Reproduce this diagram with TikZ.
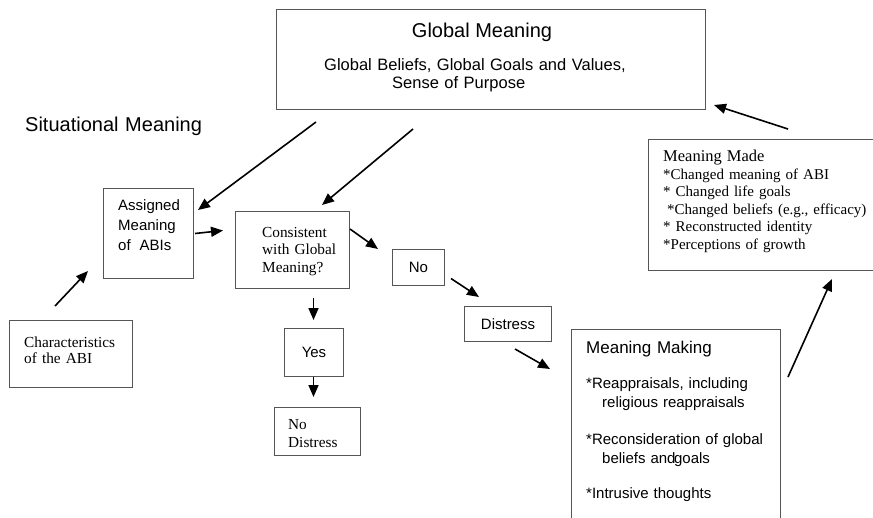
\documentclass[tikz,border=0pt]{standalone}
\usepackage{fontspec}
\setmainfont{Liberation Serif}
\setsansfont{Liberation Sans}
\usetikzlibrary{arrows.meta}
\definecolor{boxline}{RGB}{85,85,85}

\begin{document}
\begin{tikzpicture}[x=1pt, y=-1pt,
  box/.style={draw=boxline, line width=1pt, anchor=north west, inner sep=0pt},
  openbox/.style={box, draw=none},
  edge/.style={draw=boxline, line width=1pt},
  arr/.style={-{Triangle[length=12pt, width=10pt]}, line width=1.6pt},
  sanstxt/.style={font=\sffamily\fontsize{15}{#1}\selectfont, anchor=base west,
    align=left, text width=420pt, inner sep=0pt},
  sanstxt/.default=19,
  seriftxt/.style={font=\fontsize{15.3}{#1}\selectfont, anchor=base west,
    align=left, text width=420pt, inner sep=0pt},
  seriftxt/.default=17.5,
  small/.style={font=\sffamily\fontsize{15}{18}\selectfont}]
  \useasboundingbox (0,0) rectangle (873,517);
  \clip (0,0) rectangle (873,517);

  % boxes
  \node[box, minimum width=429pt, minimum height=100pt] (global) at (276,9) {};
  \node[box, minimum width=90pt, minimum height=90pt] (assigned) at (103,188) {};
  \node[box, minimum width=114pt, minimum height=77pt] (consist) at (235,211) {};
  \node[box, small, minimum width=52pt, minimum height=36pt] (nobox) at (392,249) {No};
  \node[box, small, minimum width=87pt, minimum height=35pt] (distress) at (464,306) {Distress};
  \node[box, small, minimum width=59pt, minimum height=48pt] (yes) at (284,328) {Yes};
  \node[box, minimum width=86pt, minimum height=48pt] (nodis) at (274,407) {};
  \node[box, minimum width=123pt, minimum height=67pt] (charac) at (9,320) {};
  % the two boxes that run off the page
  \node[openbox, minimum width=208pt, minimum height=240pt] (making) at (571,329) {};
  \node[openbox, minimum width=320pt, minimum height=130pt] (made) at (648,139) {};
  \draw[edge] (making.south west) -- (making.north west) -- (making.north east) -- (making.south east);
  \draw[edge] (made.north east) -- (made.north west) -- (made.south west) -- (made.south east);

  % texts
  \node[anchor=base, inner sep=0pt, font=\sffamily\fontsize{20}{24}\selectfont]
    (gtitle) at (482,37) {Global Meaning};
  \node[sanstxt=18.5, font=\sffamily\fontsize{16.5}{18.5}\selectfont] (gbody) at (324,70)
    {Global Beliefs, Global Goals and Values,\\\hspace*{68pt}Sense of Purpose};
  \node[sanstxt, font=\sffamily\fontsize{20}{24}\selectfont] (situ) at (25,131.5)
    {Situational Meaning};
  \node[sanstxt=20] (assignedtxt) at (118,210) {Assigned\\Meaning\\of\hspace{9pt}ABIs};
  \node[seriftxt] (consisttxt) at (262,237) {Consistent\\with Global\\Meaning?};
  \node[seriftxt=16.5] (charactxt) at (24,347) {Characteristics\\of the ABI};
  \node[seriftxt=18] (nodistxt) at (288,429) {No\\Distress};
  \node[sanstxt, font=\sffamily\fontsize{17}{20}\selectfont] (makingtitle) at (586,353)
    {Meaning Making};
  \node[sanstxt] (makingtxt) at (586,388)
    {{}*Reappraisals, including\\\hspace*{16pt}religious reappraisals\\[18pt]%
     {}*Reconsideration of global\\\hspace*{16pt}beliefs and\kern-1.5pt goals\\[16pt]%
     {}*Intrusive thoughts};
  \node[seriftxt, font=\fontsize{15}{17.5}\selectfont] (madetxt) at (663,161.5)
    {{\fontsize{16.5}{17.5}\selectfont Meaning Made}\\{}*Changed meaning of ABI\\{}* Changed life goals\\%
     \hspace*{4pt}*Changed beliefs (e.g., efficacy)\\{}* Reconstructed identity\\{}*Perceptions of growth};

  % arrows
  \draw[arr] ([shift={(40,12)}]global.south west) -- ([shift={(4,22)}]assigned.north east);
  \draw[arr] ([shift={(137,19)}]global.south west) -- ([shift={(87,-6)}]consist.north west);
  \draw[arr] ([shift={(1,0)}]assigned.east) -- ([shift={(-12,-19.5)}]consist.west);
  \draw[arr] ([shift={(0,18)}]consist.north east) -- ([shift={(-14,0)}]nobox.north west);
  \draw[arr] ([shift={(21,9)}]consist.south) -- ([shift={(-0.5,-8)}]yes.north);
  \draw[arr] ([shift={(-0.5,0)}]yes.south) -- ([shift={(-4,-10)}]nodis.north);
  \draw[arr] ([shift={(46,-14)}]charac.north west) -- ([shift={(-15,-8)}]assigned.south west);
  \draw[arr] ([shift={(6,11)}]nobox.east) -- ([shift={(15,-9)}]distress.north west);
  \draw[arr] ([shift={(51,7)}]distress.south west) -- ([shift={(-21,40)}]making.north west);
  \draw[arr] ([shift={(8,48)}]making.north east) -- ([shift={(184,9)}]made.south west);
  \draw[arr] ([shift={(140,-10)}]made.north west) -- ([shift={(8,-5)}]global.south east);
\end{tikzpicture}
\end{document}
